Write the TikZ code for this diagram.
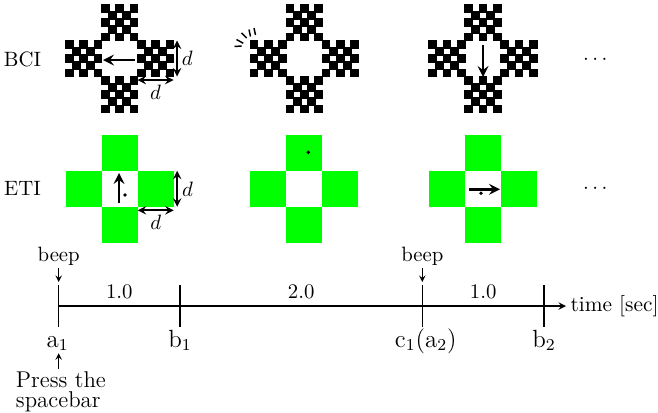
\documentclass[tikz,border=0pt]{standalone}
\usepackage{amsmath,amssymb}
\usepackage{xcolor}
\usepackage{tikz}
\usetikzlibrary{arrows, calc}

\begin{document}
\begin{tikzpicture}[x=0.482pt, y=-0.482pt, >=stealth,
    move/.style={line width=1.3pt,->},
    gaze/.style={fill=black},
    dist/.style={line width=0.8pt,<->},
    timeline/.style={semithick},
    tick/.style={anchor=base, inner sep=1pt, font=\large},
    note/.style={inner sep=1pt},
    flash/.style={line width=0.7pt}]

\useasboundingbox (0,0) rectangle (658,413);

% stimulus centres
\coordinate (bci1) at (119.5,58.5);
\coordinate (bci2) at (304.3,58.5);
\coordinate (bci3) at (483,58.5);
\coordinate (eti1) at (119.7,188.8);
\coordinate (eti2) at (304.3,188.8);
\coordinate (eti3) at (483,188.8);

\node (bcilbl) at (22.5,59) {BCI};
\node (etilbl) at (22.5,188.8) {ETI};
\node (bcidots) at (597,60) {$\cdots$};
\node (etidots) at (597,189) {$\cdots$};

% checkerboard crosses
\foreach \c in {bci1,bci2,bci3}
  \foreach \ox/\oy in {0/-36,0/36,-36/0,36/0}
    \foreach \i in {0,...,4}
      \foreach \j in {0,...,4}{
        \pgfmathtruncatemacro\k{\i+\j}
        \ifodd\k\else
          \fill ([shift={(\ox-18.8+7.2*\i,\oy-18.8+7.2*\j)}]\c) rectangle ++(8.8,8.8);
        \fi
      }

% green crosses
\foreach \c in {eti1,eti2,eti3}
  \foreach \ox/\oy in {0/-36,0/36,-36/0,36/0}
    \fill[green] ([shift={(\ox-18,\oy-18)}]\c) rectangle ++(36,36);

% size of one arm
\draw[dist] ([shift={(57.5,-18)}]bci1) -- node[right, inner sep=2pt] (dv1) {$d$} ([shift={(57.5,18)}]bci1);
\draw[dist] ([shift={(18,21.5)}]bci1) -- node[below, inner sep=2pt] (dh1) {$d$} ([shift={(54,21.5)}]bci1);
\draw[dist] ([shift={(57.5,-18)}]eti1) -- node[right, inner sep=2pt] (dv2) {$d$} ([shift={(57.5,18)}]eti1);
\draw[dist] ([shift={(18,21.5)}]eti1) -- node[below, inner sep=2pt] (dh2) {$d$} ([shift={(54,21.5)}]eti1);

% movements and gaze points
\draw[move] ([shift={(15.5,1.5)}]bci1) -- ([shift={(-16.5,1.5)}]bci1);
\draw[move] ([shift={(0,-13.5)}]bci3) -- ([shift={(0,18.5)}]bci3);
\draw[move] ([shift={(-0.7,14.2)}]eti1) -- ([shift={(-0.7,-15.8)}]eti1);
\draw[move] ([shift={(-14,0.5)}]eti3) -- ([shift={(17,0.5)}]eti3);
\fill[gaze] ([shift={(5.3,6.2)}]eti1) circle (1.9);
\fill[gaze] ([shift={(4,-36.5)}]eti2) circle (1.9);
\fill[gaze] ([shift={(-2,4.5)}]eti3) circle (1.9);

% flash
\draw[flash] (234.5,46.5) -- (241.7,46)
  (236.5,39.5) -- (243.3,43.3)
  (241.5,33) -- (246.7,38)
  (249,29.5) -- (250.5,36.5)
  (254,28) -- (255.5,35);

% time line
\coordinate (ta) at (58.7,306);
\coordinate (tb) at (180,306);
\coordinate (tc) at (422.3,306);
\coordinate (td) at (544,306);
\coordinate (tend) at (566,306);

\draw[timeline,->] (ta) -- (tend);
\foreach \t in {ta,tb,tc,td}
  \draw[timeline] ([shift={(0,-21)}]\t) -- ([shift={(0,21)}]\t);
\node[note, right, inner sep=2pt, font=\fontsize{10.3pt}{12pt}\selectfont] (timelbl) at (tend) {time [sec]};

\path (ta) -- node[above] (int1) {1.0} (tb);
\path (tb) -- node[above] (int2) {2.0} (tc);
\path (tc) -- node[above] (int3) {1.0} (td);

\node[tick] (la1) at ([shift={(-1,41)}]ta) {a$_1$};
\node[tick] (lb1) at ([shift={(0,41)}]tb) {b$_1$};
\node[tick] (lc1) at ([shift={(3.5,41)}]tc) {c$_1$(a$_2$)};
\node[tick] (lb2) at ([shift={(0,41)}]td) {b$_2$};

\node[note, anchor=base] (beep1) at ([shift={(0,-45)}]ta) {beep};
\node[note, anchor=base] (beep2) at ([shift={(0,-45)}]tc) {beep};
\draw[->] (beep1) -- ([shift={(0,-24)}]ta);
\draw[->] (beep2) -- ([shift={(0,-24)}]tc);

\node[note, align=left, anchor=north west, font=\fontsize{11pt}{13.5pt}\selectfont] (press) at (13.5,369) {Press the\\[-4pt]spacebar};
\draw[->] (press.north -| ta) -- (la1.south -| ta);

\end{tikzpicture}
\end{document}
